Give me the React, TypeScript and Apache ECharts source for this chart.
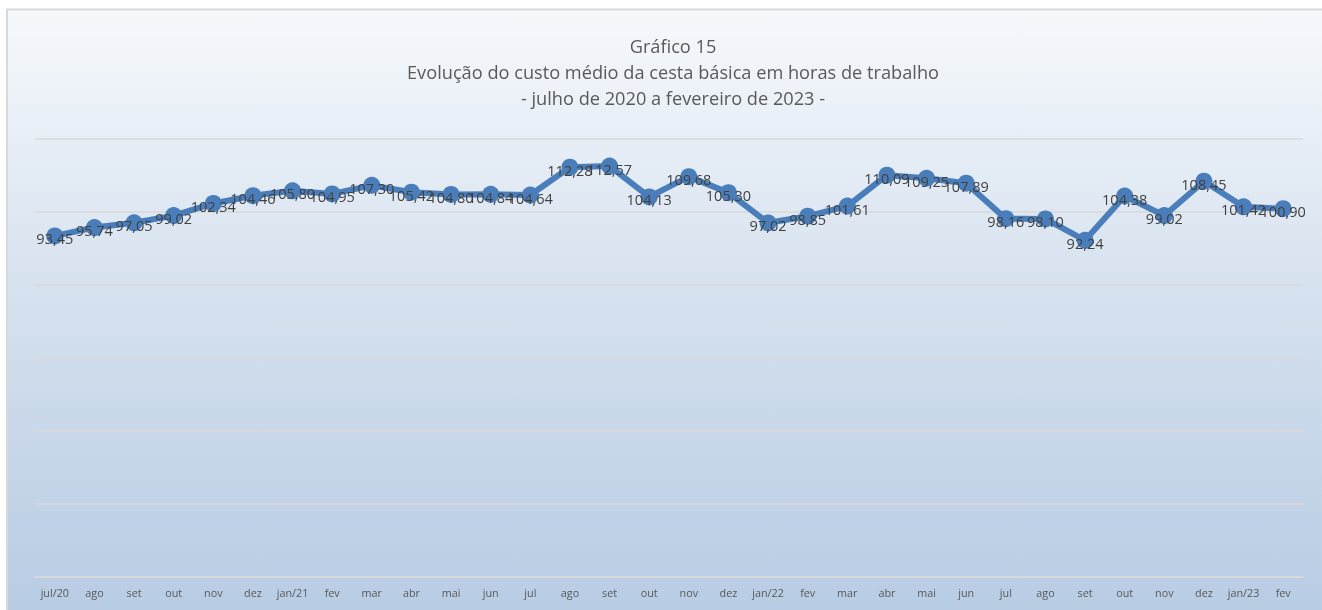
import React, { useEffect, useRef } from "react";
import * as echarts from "echarts";

const categories = [
  "jul/20", "ago", "set", "out", "nov", "dez", "jan/21", "fev", "mar", "abr", "mai", "jun",
  "jul", "ago", "set", "out", "nov", "dez", "jan/22", "fev", "mar", "abr", "mai", "jun",
  "jul", "ago", "set", "out", "nov", "dez", "jan/23", "fev",
];

const horas = [
  93.45, 95.74, 97.05, 99.02, 102.34, 104.46, 105.8, 104.95, 107.3, 105.42, 104.8, 104.84,
  104.64, 112.28, 112.57, 104.13, 109.68, 105.3, 97.02, 98.85, 101.61, 110.09, 109.25, 107.89,
  98.16, 98.1, 92.24, 104.38, 99.02, 108.45, 101.42, 100.9,
];

const titleLines = [
  "Gráfico 15",
  "Evolução do custo médio da cesta básica em horas de trabalho",
  "- julho de 2020 a fevereiro de 2023 -",
];

const FONT = "'Open Sans', 'Noto Sans', sans-serif";

export default function App() {
  const ref = useRef<HTMLDivElement>(null);
  useEffect(() => {
    if (!ref.current) return;
    const chart = echarts.init(ref.current, null, { renderer: "svg" });
    const W = 1316;
    const H = 602;
    chart.setOption({
      animation: false,
      graphic: {
        z: -10,
        elements: [
          {
            type: "rect",
            z: -10,
            shape: { x: 0, y: 0, width: W, height: H },
            style: {
              fill: new echarts.graphic.LinearGradient(0, 0, 0, 1, [
                { offset: 0, color: "#f6f9fc" },
                { offset: 0.5, color: "#d4e0ee" },
                { offset: 1, color: "#b8cce4" },
              ]),
            },
          },
          {
            type: "line",
            z: -9,
            shape: { x1: 1, y1: 1, x2: 1, y2: H },
            style: { stroke: "#d9d9d9", lineWidth: 2 },
          },
          {
            type: "line",
            z: -9,
            shape: { x1: 0, y1: 1.5, x2: W, y2: 1.5 },
            style: { stroke: "#d9d9d9", lineWidth: 2 },
          },
          ...titleLines.map((t, i) => ({
            type: "text",
            z: 5,
            x: 667,
            y: 38 + i * 26,
            style: {
              text: t,
              fill: "#595959",
              font: `18.2px ${FONT}`,
              textAlign: "center",
              textVerticalAlign: "middle",
            },
          })),
        ],
      },
      grid: { left: 29, right: 19, top: 131, bottom: 33 },
      xAxis: {
        type: "category",
        data: categories,
        boundaryGap: true,
        axisLine: { show: true, lineStyle: { color: "#d9d9d9", width: 1.5 } },
        axisTick: { show: false },
        axisLabel: {
          color: "#595959",
          fontSize: 10.8,
          fontFamily: FONT,
          margin: 10,
          interval: 0,
        },
      },
      yAxis: {
        type: "value",
        min: 0,
        max: 120,
        interval: 20,
        axisLabel: { show: false },
        axisLine: { show: false },
        axisTick: { show: false },
        splitLine: { lineStyle: { color: "#d9d9d9", width: 1.5 } },
      },
      series: [
        {
          type: "line",
          data: horas,
          symbol: "circle",
          symbolSize: 17,
          itemStyle: { color: "#4a7ebb" },
          lineStyle: { color: "#4a7ebb", width: 6 },
          label: {
            show: true,
            position: "inside",
            offset: [0, 3],
            color: "#404040",
            fontSize: 14.5,
            fontFamily: FONT,
            formatter: (p: any) => Number(p.value).toFixed(2).replace(".", ","),
          },
        },
      ],
    });
    return () => chart.dispose();
  }, []);
  return (
    <div
      ref={ref}
      style={{ position: "fixed", left: 6, top: 8, width: 1316, height: 602 }}
    />
  );
}
